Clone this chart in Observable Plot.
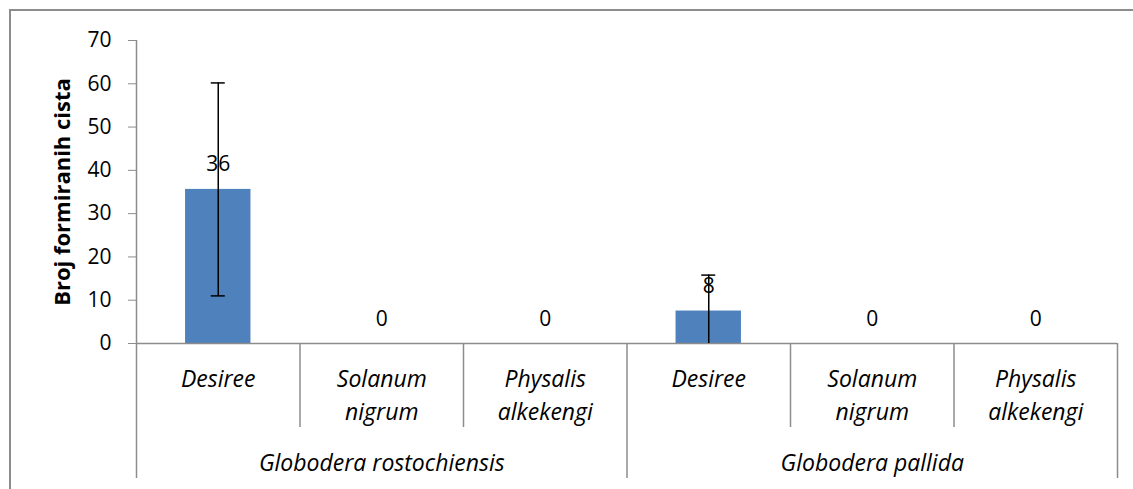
<!DOCTYPE html>
<html><head><meta charset="utf-8">
<script src="https://cdn.jsdelivr.net/npm/d3@7"></script>
<script src="https://cdn.jsdelivr.net/npm/@observablehq/plot@0.6"></script>
<style>
body{margin:0;background:#fff;}
#wrap{position:relative;width:1133px;height:489px;overflow:hidden;}
#border{position:absolute;left:9px;top:9px;width:1200px;height:600px;border-top:2px solid #8c8c8c;border-left:2px solid #8c8c8c;pointer-events:none;}
</style></head><body>
<div id="wrap"><div id="chart"></div><div id="border"></div></div>
<script>
const groups = ["Globodera rostochiensis", "Globodera pallida"];
const hosts = ["Desiree", "Solanum\nnigrum", "Physalis\nalkekengi"];
const means = [35.6, 0, 0, 7.5, 0, 0];
const errors = [24.6, 0, 0, 8.3, 0, 0];
const yTicks = [0, 10, 20, 30, 40, 50, 60, 70];
const yTitle = "Broj formiranih cista";

const rows = [];
groups.forEach((g, gi) => hosts.forEach((h, hi) => {
  const i = gi * hosts.length + hi;
  rows.push({i, group: g, host: h, mean: means[i], err: errors[i]});
}));
const nCat = rows.length;
const catBounds = d3.range(1, nCat).filter(k => k % hosts.length !== 0);
const groupBounds = d3.range(0, nCat + 1, hosts.length);
const errRows = rows.filter(d => d.err > 0).map(d => ({
  ...d, lo: Math.max(0, d.mean - d.err), hi: d.mean + d.err, clipped: d.mean - d.err < 0
}));
const gray = "#8c8c8c";
const font = "'Open Sans', sans-serif";
const cx = d => d.i + 0.5;

const plot = Plot.plot({
  width: 1133, height: 489,
  marginLeft: 136, marginRight: 16, marginTop: 40, marginBottom: 146,
  style: {fontFamily: font, fontSize: "21px", background: "#fff", color: "#000", overflow: "visible"},
  x: {domain: [0, nCat], axis: null},
  y: {domain: [yTicks[0], yTicks[yTicks.length - 1]], axis: null},
  marks: [
    Plot.rectY(rows, {x1: d => d.i + 0.3, x2: d => d.i + 0.7, y: "mean", fill: "#4F81BD"}),
    Plot.axisY({ticks: yTicks, tickSize: 8, tickPadding: 17, stroke: gray, label: null, fontSize: 21}),
    Plot.ruleX([0], {stroke: gray, strokeWidth: 1.5}),
    Plot.ruleY([0], {stroke: gray, strokeWidth: 1.5}),
    Plot.ruleX(catBounds, {y1: 0, y2: 0, insetBottom: -84, stroke: gray, strokeWidth: 1.5}),
    Plot.ruleX(groupBounds, {y1: 0, y2: 0, insetBottom: -135, stroke: gray, strokeWidth: 1.5}),
    Plot.ruleX(errRows, {x: cx, y1: "lo", y2: "hi", stroke: "#000", strokeWidth: 1.5}),
    Plot.ruleY(errRows, {x1: cx, x2: cx, y: "hi", insetLeft: -7, insetRight: -7, stroke: "#000", strokeWidth: 1.5}),
    Plot.ruleY(errRows.filter(d => !d.clipped), {x1: cx, x2: cx, y: "lo", insetLeft: -7, insetRight: -7, stroke: "#000", strokeWidth: 1.5}),
    Plot.text(rows, {x: cx, y: "mean", text: d => d3.format(".0f")(d.mean), lineAnchor: "bottom", dy: -18, fontSize: 21}),
    Plot.text(rows, {x: cx, y: 0, text: "host", lineAnchor: "top", dy: 20, lineHeight: 1.43, fontStyle: "italic", fontSize: 23}),
    Plot.text(groups, {x: (d, gi) => gi * hosts.length + hosts.length / 2, y: 0, text: d => d, lineAnchor: "top", dy: 111, fontStyle: "italic", fontSize: 23}),
    Plot.text([yTitle], {frameAnchor: "left", textAnchor: "middle", rotate: -90, dx: -74, fontWeight: "bold", fontSize: 22})
  ]
});
document.getElementById("chart").append(plot);
</script></body></html>
